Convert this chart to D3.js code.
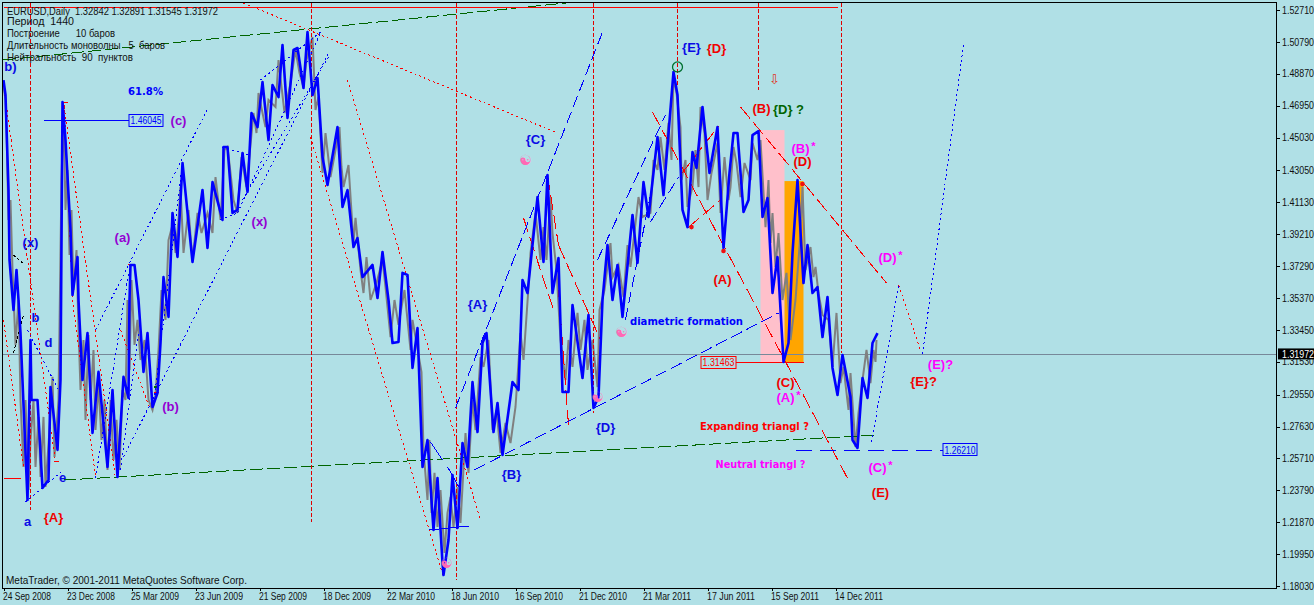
<!DOCTYPE html>
<html><head><meta charset="utf-8">
<script src="https://cdn.jsdelivr.net/npm/d3@7"></script>
<style>
html,body{margin:0;padding:0;background:#B0E0E6;overflow:hidden}
svg{display:block}
text{white-space:pre}
</style></head><body>
<svg id="c" width="1314" height="605"></svg>
<script>
// ---- values: [bar index, EURUSD price]
const priceTicks=[1.5271,1.5079,1.4887,1.4695,1.4503,1.4305,1.4113,1.3921,1.3729,1.3537,1.3345,1.3153,1.2955,1.2763,1.2571,1.2379,1.2187,1.1995,1.1803];
const dateTickBars=[0,64,128,192,256,320,384,448,512,576,640,704,768,832];
const dateTickLabels=["24 Sep 2008","23 Dec 2008","25 Mar 2009","23 Jun 2009","21 Sep 2009","18 Dec 2009","22 Mar 2010","18 Jun 2010","16 Sep 2010","21 Dec 2010","21 Mar 2011","17 Jun 2011","15 Sep 2011","14 Dec 2011"];
const lastPrice=1.31972, levelC=1.46045, levelRed=1.31463, levelBlue=1.26210;
const headerLines=["EURUSD,Daily  1.32842 1.32891 1.31545 1.31972","Период  1440","Построение      10 баров","Длительность моноволны   5  баров","Нейтральность  90  пунктов"];
const bluePath=[[0,1.4849],[2,1.4759],[5,1.4187],[6,1.3766],[10,1.3465],[13,1.3706],[15,1.3525],[17,1.3326],[24,1.2321],[27,1.3284],[28,1.2923],[34,1.2923],[39,1.2393],[45,1.2441],[47,1.3001],[54,1.2622],[57,1.3043],[59,1.4717],[62,1.4488],[67,1.3946],[69,1.3555],[74,1.3784],[75,1.3525],[79,1.3043],[84,1.3326],[89,1.2725],[95,1.3092],[104,1.2520],[109,1.2983],[114,1.2460],[120,1.3062],[125,1.2935],[126,1.3525],[127,1.3736],[131,1.3736],[135,1.3525],[140,1.3092],[144,1.3326],[149,1.2881],[154,1.2965],[157,1.3266],[160,1.3663],[165,1.3423],[169,1.4049],[174,1.3784],[179,1.4350],[189,1.3754],[199,1.4187],[204,1.3838],[209,1.4235],[219,1.4007],[220,1.4446],[224,1.4446],[229,1.4049],[234,1.4067],[239,1.4410],[244,1.4175],[248,1.4651],[254,1.4566],[259,1.4837],[265,1.4488],[269,1.4819],[275,1.4747],[279,1.5060],[284,1.4621],[290,1.5030],[294,1.5042],[300,1.4801],[304,1.5138],[309,1.4759],[314,1.4861],[319,1.4386],[324,1.4217],[334,1.4566],[339,1.4085],[344,1.4187],[350,1.3844],[354,1.3898],[359,1.3663],[369,1.3736],[374,1.3537],[379,1.3814],[385,1.3525],[389,1.3266],[395,1.3272],[399,1.3688],[404,1.3676],[409,1.3116],[414,1.3356],[419,1.2520],[424,1.2682],[430,1.2140],[434,1.2453],[439,1.1942],[440,1.1869],[445,1.2080],[449,1.2471],[454,1.2152],[459,1.2664],[464,1.2520],[469,1.3031],[474,1.2730],[479,1.3266],[483,1.3326],[490,1.2730],[494,1.2905],[499,1.2592],[509,1.3031],[515,1.2983],[519,1.3645],[524,1.3567],[534,1.4145],[540,1.3754],[544,1.4277],[549,1.3567],[555,1.3778],[559,1.2971],[565,1.2971],[569,1.3495],[579,1.3055],[585,1.3435],[590,1.2875],[595,1.2941],[599,1.3525],[604,1.3856],[609,1.3525],[614,1.3736],[619,1.3423],[629,1.4037],[634,1.3748],[640,1.4235],[645,1.4025],[654,1.4506],[660,1.4157],[670,1.4898],[674,1.4759],[679,1.4067],[684,1.3964],[689,1.4416],[693,1.4320],[699,1.4687],[706,1.4290],[714,1.4566],[720,1.3838],[726,1.4290],[730,1.4530],[734,1.4530],[740,1.4055],[745,1.4127],[749,1.4518],[755,1.4542],[759,1.4025],[764,1.4139],[769,1.3567],[774,1.3784],[780,1.3152],[785,1.3266],[789,1.3808],[794,1.4247],[800,1.3627],[804,1.3856],[809,1.3567],[814,1.3603],[819,1.3302],[824,1.3543],[829,1.3116],[834,1.2953],[839,1.3194],[847,1.2941],[849,1.2682],[854,1.2634],[859,1.3055],[864,1.2935],[869,1.3266],[874,1.3326]];
const grayPath=[[0,1.4819],[2,1.4729],[3,1.4548],[5,1.4007],[7,1.4127],[9,1.3706],[12,1.3254],[15,1.3525],[17,1.2923],[20,1.2520],[22,1.2923],[25,1.2381],[27,1.2682],[30,1.2923],[32,1.2520],[35,1.2821],[37,1.2460],[40,1.2821],[42,1.2399],[46,1.2742],[49,1.3062],[51,1.2580],[55,1.2923],[58,1.4247],[60,1.4669],[62,1.4067],[64,1.4308],[66,1.3796],[68,1.4067],[70,1.3585],[73,1.3826],[75,1.3344],[77,1.2983],[80,1.3284],[82,1.2803],[85,1.3314],[87,1.2923],[90,1.3224],[92,1.2742],[95,1.3013],[98,1.2682],[101,1.2923],[104,1.2502],[107,1.2923],[110,1.2562],[113,1.2803],[116,1.2502],[119,1.2983],[122,1.2923],[124,1.3525],[126,1.3104],[128,1.3645],[131,1.3254],[134,1.3405],[137,1.3164],[141,1.3284],[145,1.2923],[149,1.2863],[152,1.2953],[155,1.3224],[158,1.3585],[162,1.3405],[165,1.3886],[169,1.3976],[172,1.3808],[175,1.4007],[177,1.4205],[180,1.3808],[185,1.4067],[189,1.3766],[194,1.4049],[198,1.3928],[204,1.4049],[209,1.3928],[212,1.4265],[217,1.4007],[221,1.4428],[224,1.4446],[227,1.4290],[230,1.4127],[234,1.4049],[238,1.4386],[243,1.4205],[250,1.4651],[253,1.4530],[255,1.4771],[259,1.4651],[262,1.4566],[265,1.4729],[272,1.4687],[275,1.4970],[281,1.4651],[287,1.4831],[292,1.5030],[296,1.4892],[300,1.4807],[303,1.4970],[309,1.5108],[312,1.4669],[315,1.4747],[319,1.4290],[322,1.4530],[327,1.4265],[332,1.4428],[336,1.4566],[338,1.4326],[340,1.4205],[345,1.4338],[350,1.3868],[352,1.4019],[357,1.3706],[360,1.3567],[363,1.3784],[367,1.3525],[373,1.3627],[379,1.3766],[382,1.3603],[387,1.3302],[391,1.3525],[395,1.3375],[401,1.3585],[407,1.3224],[409,1.3405],[418,1.3091],[420,1.2622],[424,1.2321],[426,1.2682],[428,1.2243],[431,1.2484],[434,1.2158],[437,1.2381],[441,1.2002],[444,1.2243],[447,1.2339],[450,1.2158],[454,1.2399],[457,1.2183],[462,1.2724],[465,1.2484],[469,1.2923],[472,1.2742],[477,1.3182],[480,1.3122],[485,1.3284],[489,1.2742],[493,1.2863],[497,1.2604],[502,1.2785],[507,1.2664],[512,1.2881],[517,1.3326],[520,1.3164],[525,1.3603],[527,1.3808],[532,1.4049],[537,1.3766],[540,1.3964],[543,1.3766],[547,1.4145],[549,1.3928],[553,1.3706],[557,1.3284],[562,1.3043],[565,1.3284],[569,1.3122],[574,1.3447],[577,1.3224],[581,1.3405],[584,1.3104],[589,1.3284],[594,1.3001],[596,1.3465],[601,1.3585],[607,1.3868],[609,1.3663],[615,1.3736],[620,1.3543],[624,1.3856],[627,1.3724],[635,1.4145],[639,1.4025],[647,1.4049],[650,1.4368],[654,1.4308],[657,1.4506],[661,1.4308],[665,1.4591],[668,1.4368],[670,1.4867],[673,1.4771],[677,1.4566],[678,1.4247],[682,1.4368],[684,1.4085],[689,1.4205],[692,1.4428],[695,1.4205],[697,1.4687],[701,1.4530],[704,1.4127],[708,1.4290],[714,1.4470],[717,1.4049],[721,1.4386],[725,1.4127],[727,1.4205],[730,1.4446],[733,1.4350],[737,1.4145],[741,1.4350],[747,1.4247],[749,1.4470],[754,1.4368],[757,1.4488],[762,1.3964],[765,1.4247],[767,1.3868],[769,1.4049],[772,1.3724],[775,1.3928],[779,1.3525],[783,1.3688],[787,1.3284],[792,1.3525],[797,1.3928],[799,1.4205],[802,1.3706],[807,1.3844],[810,1.3663],[812,1.3724],[815,1.3567],[819,1.3435],[825,1.3405],[829,1.3122],[833,1.3447],[837,1.3025],[840,1.3122],[845,1.2863],[847,1.3085],[852,1.2640],[855,1.2845],[859,1.3043],[863,1.3224],[867,1.3025],[870,1.3224],[872,1.3152],[873,1.3284]];
// trend lines: [bar, price, bar, price]
const redDotLines=[[240,1.5313,554,1.4530],[0,1.4819,52,1.2550],[0,1.3405,20,1.2520],[60,1.4717,112,1.2453],[61,1.4699,69,1.3525],[69,1.3525,92,1.2460],[117,1.3344,147,1.2863],[307,1.4506,440,1.1857],[344,1.4849,477,1.2201],[895,1.3615,917,1.3224]];
const redLongLines=[[520,1.4019,550,1.3465],[544,1.4277,555,1.3856],[555,1.3585,565,1.2773],[555,1.3856,597,1.3284],[649,1.4657,845,1.2441],[737,1.4687,883,1.3627],[684,1.3958,717,1.4127],[677,1.4277,715,1.4572]];
const redSolidLines=[[0,1.5289,834,1.5289],[0,1.2453,17,1.2453],[50,1.2550,55,1.2550],[150,1.2971,155,1.2971],[59,1.4717,64,1.4717],[124,1.3736,129,1.3736],[732,levelRed,800,levelRed]];
const redVBars=[27,308,453,590,674,755,838];
const redVEnds=[1.2261,1.2189,1.1839,1.2845,1.4819,1.4789,1.3206];
const blueDotLines=[[92,1.3344,205,1.4687],[92,1.2453,127,1.3754],[120,1.2580,325,1.5012],[150,1.2893,179,1.4356],[117,1.2502,135,1.3326],[234,1.4049,317,1.5132],[239,1.4127,325,1.4988],[257,1.4849,317,1.5138],[219,1.4446,245,1.4398],[217,1.4007,234,1.4049],[22,1.2309,60,1.2502],[24,1.3344,55,1.2983],[868,1.2670,884,1.3212],[884,1.3212,895,1.3615],[919,1.3200,960,1.5060]];
const blueLongLines=[[452,1.2875,599,1.5138],[471,1.2502,775,1.3447],[594,1.3766,662,1.4639],[622,1.3405,649,1.4217],[647,1.3995,675,1.4265],[792,levelBlue,939,levelBlue]];
const blueSolidLines=[[427,1.2670,439,1.2562],[444,1.2520,457,1.2381],[425,1.2140,465,1.2164],[40,levelC,125,levelC]];
const greenLines=[[60,1.2441,872,1.2712],[0,1.4970,562,1.5313]];
const greenSolid=[[150,1.3001,155,1.3001]];
const blackLines=[[10,1.3796,19,1.3748],[10,1.3206,20,1.3435]];
const pinkZone=[757,781,1.4548,levelRed];
const orangeZone=[781,800,1.4241,levelRed];
const redDots=[[688,1.3964],[720,1.3820],[799,1.4223]];
const yinYang=[[522,1.4368],[618,1.3332],[443,1.1942],[594,1.2941]];
const ringMark=[674,1.4928];
const arrowMark=[771,1.4855];
// labels: [text, bar, price]
const blueLabels=[["b)",7,1.4934],["(x)",27,1.3874],["b",32,1.3423],["d",45,1.3272],["e",59,1.2460],["a",24,1.2195],["{C}",532,1.4494],["{A}",474,1.3501],["{B}",508,1.2478],["{D}",602,1.2761],["{E}",688,1.5048]];
const redLabels=[["{A}",50,1.2219],["{D}",713,1.5042],["(B)",758,1.4681],["(D)",799,1.4362],["(A)",719,1.3651],["(C)",782,1.3031],["(E)",877,1.2369],["{E}?",920,1.3037]];
const purpleLabels=[["(c)",175,1.4609],["(a)",119,1.3904],["(x)",256,1.4001],["(b)",167,1.2887]];
const magentaLabels=[["(B)",797,1.4440],["(D)",884,1.3784],["(A)",782,1.2941],["(C)",874,1.2520],["(E)?",937,1.3140]];
const magentaStars=[[810,1.4460],[897,1.3804],[795,1.2961],[887,1.2540]];
const greenLabels=[["{D} ?",785,1.4675]];
const wideBlue=[["61.8%",142,1.4783,35],["diametric formation",683,1.3399,113]];
const wideRed=[["Expanding triangl ?",751,1.2761,109]];
const wideMagenta=[["Neutral triangl ?",757,1.2538,90]];

// ---- drawing
const svg=d3.select("#c");
const x=d3.scaleLinear().domain([0,874]).range([3.5,877.5]);
const y=d3.scaleLinear().domain([1.1803,1.5271]).range([586,10]);
const C={blue:"#0000FF",red:"#FF0000",green:"#006400",purple:"#9400D3",mag:"#FF00FF",gray:"#808080",grid:"#778899"};
const FF="'Liberation Sans',Arial,sans-serif";

svg.append("rect").attr("x",3).attr("y",3).attr("width",1274).attr("height",585).attr("fill","#B0E0E6");

// zones
[[pinkZone,"#FFC0CB"],[orangeZone,"#FFA500"]].forEach(([z,c])=>{
  svg.append("rect").attr("x",x(z[0])).attr("width",x(z[1])-x(z[0])).attr("y",y(z[2])).attr("height",y(z[3])-y(z[2])).attr("fill",c);
});
function segs(data,color,w,dash){
  svg.append("g").selectAll("line").data(data).join("line")
    .attr("x1",d=>x(d[0])).attr("y1",d=>y(d[1])).attr("x2",d=>x(d[2])).attr("y2",d=>y(d[3]))
    .attr("stroke",color).attr("stroke-width",w).attr("stroke-dasharray",dash||null).attr("shape-rendering","crispEdges");
}
// last price line
segs([[-1,lastPrice,1273,lastPrice]],C.grid,1);
const ln=d3.line().x(d=>x(d[0])).y(d=>y(d[1]));
svg.append("path").attr("d",ln(grayPath)).attr("fill","none").attr("stroke",C.gray).attr("stroke-width",2).attr("stroke-linejoin","miter");
segs(greenLines,C.green,1,"13 4");
segs(greenSolid,C.green,1.5);
segs(redDotLines,C.red,1,"2 3");
segs(redLongLines,C.red,1,"15 5");
segs(redSolidLines,C.red,1);
segs(redVBars.map((b,i)=>[b,y.invert(3),b,redVEnds[i]]),"#E00000",1,"4 2");
segs(blueDotLines,C.blue,1,"2 3");
segs(blueLongLines.slice(0,5),C.blue,1,"12 5");
segs(blueLongLines.slice(5),C.blue,1,"16 8");
segs(blueSolidLines,C.blue,1);
segs(blackLines,"#000",1,"3 2");
svg.append("path").attr("d",ln(bluePath)).attr("fill","none").attr("stroke",C.blue).attr("stroke-width",2.6).attr("stroke-linejoin","round");

// marks
svg.append("g").selectAll("circle").data(redDots).join("circle").attr("cx",d=>x(d[0])).attr("cy",d=>y(d[1])).attr("r",2.3).attr("fill","#F01010");
svg.append("circle").attr("cx",x(ringMark[0])).attr("cy",y(ringMark[1])).attr("r",5).attr("fill","none").attr("stroke","#007030").attr("stroke-width",1.3);
svg.append("g").selectAll("text").data(yinYang).join("text").attr("x",d=>x(d[0])).attr("y",d=>y(d[1])).attr("dy","0.36em").attr("text-anchor","middle")
  .attr("font-family","'DejaVu Sans'").attr("font-size",14).attr("font-weight","bold").attr("fill","#FF69B4").text("☯");
svg.append("text").attr("x",x(arrowMark[0])).attr("y",y(arrowMark[1])).attr("dy","0.36em").attr("text-anchor","middle")
  .attr("font-family","'DejaVu Sans'").attr("font-size",13).attr("fill","#E03020").text("⇩");

// labels
function labels(data,color,size){
  svg.append("g").selectAll("text").data(data).join("text").attr("x",d=>x(d[1])).attr("y",d=>y(d[2])).attr("dy","0.36em").attr("text-anchor","middle")
    .attr("font-family",FF).attr("font-weight","bold").attr("font-size",size||13).attr("fill",color).text(d=>d[0]);
}
labels(blueLabels,"#0A0AE6");labels(redLabels,"#F00000");labels(purpleLabels,C.purple);labels(magentaLabels,C.mag);labels(greenLabels,C.green);
svg.append("g").selectAll("text").data(magentaStars).join("text").attr("x",d=>x(d[0])).attr("y",d=>y(d[1])).attr("dy","0.5em").attr("text-anchor","middle")
  .attr("font-family",FF).attr("font-weight","bold").attr("font-size",11).attr("fill",C.mag).text("*");
function wide(data,color){
  svg.append("g").selectAll("text").data(data).join("text").attr("x",d=>x(d[1])).attr("y",d=>y(d[2])).attr("dy","0.36em").attr("text-anchor","middle")
    .attr("font-family","'DejaVu Sans'").attr("font-weight","bold").attr("font-size",10).attr("textLength",d=>d[3]).attr("lengthAdjust","spacingAndGlyphs").attr("fill",color).text(d=>d[0]);
}
wide(wideBlue,C.blue);wide(wideRed,C.red);wide(wideMagenta,C.mag);

// price boxes
function box(px,wd,price,color,label){
  const g=svg.append("g");
  g.append("rect").attr("x",px+.5).attr("y",Math.round(y(price))-6.5).attr("width",wd).attr("height",12).attr("fill","#B0E0E6").attr("stroke",color);
  g.append("text").attr("x",px+wd/2+.5).attr("y",y(price)).attr("dy","0.36em").attr("text-anchor","middle").attr("font-family",FF).attr("font-size",10)
    .attr("textLength",wd-3).attr("lengthAdjust","spacingAndGlyphs").attr("fill",color).text(label);
}
box(x(125),34,levelC,C.blue,levelC.toFixed(5));
box(x(697),35,levelRed,C.red,levelRed.toFixed(5));
box(x(939),34,levelBlue,C.blue,levelBlue.toFixed(5));

// header and copyright
const tl=[211,67,108,158,126], tyy=[11,21,33,45,57];
svg.append("g").selectAll("text").data(headerLines).join("text").attr("x",7).attr("y",(d,i)=>tyy[i]).attr("dy","0.36em")
  .attr("font-family",FF).attr("font-size",10.5).attr("textLength",(d,i)=>tl[i]).attr("lengthAdjust","spacingAndGlyphs").attr("fill","#111").text(d=>d);
svg.append("text").attr("x",6).attr("y",580).attr("dy","0.36em").attr("font-family",FF).attr("font-size",10.5).attr("textLength",241).attr("lengthAdjust","spacingAndGlyphs").attr("fill","#111").text("MetaTrader, © 2001-2011 MetaQuotes Software Corp.");

// axes
const ay=d3.axisRight(y).tickValues(priceTicks).tickFormat(d3.format(".5f")).tickSize(3).tickPadding(2);
const gy=svg.append("g").attr("transform","translate(1277,0)").call(ay);
const ax=d3.axisBottom(x).tickValues(dateTickBars).tickFormat((d,i)=>dateTickLabels[i]).tickSize(3).tickPadding(2);
const gx=svg.append("g").attr("transform","translate(0,588)").call(ax);
[gy,gx].forEach(g=>{g.select(".domain").remove();g.selectAll("line").attr("stroke","#000").attr("shape-rendering","crispEdges");});
gy.selectAll("text").attr("font-family",FF).attr("font-size",10).attr("fill","#111").attr("textLength",32).attr("lengthAdjust","spacingAndGlyphs");
gx.selectAll("text").attr("font-family",FF).attr("font-size",10).attr("fill","#111").attr("text-anchor","start").attr("textLength",48).attr("lengthAdjust","spacingAndGlyphs");
gx.selectAll(".tick text").attr("dx",-1);

// frame
svg.append("rect").attr("x",2.5).attr("y",2.5).attr("width",1274).attr("height",586).attr("fill","none").attr("stroke","#000").attr("shape-rendering","crispEdges");

// last price tag
svg.append("rect").attr("x",1278).attr("y",y(lastPrice)-6).attr("width",36).attr("height",11).attr("fill","#000");
svg.append("text").attr("x",1282).attr("y",y(lastPrice)).attr("dy","0.32em").attr("font-family",FF).attr("font-size",10).attr("fill","#fff").attr("textLength",32).attr("lengthAdjust","spacingAndGlyphs").text(lastPrice.toFixed(5));
</script></body></html>
